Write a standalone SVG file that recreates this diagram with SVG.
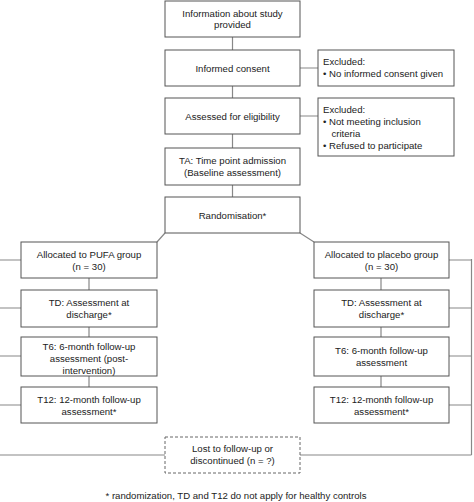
<svg xmlns="http://www.w3.org/2000/svg" width="474" height="502" viewBox="0 0 474 502">
<style>
.b{fill:#fff;stroke:#555;stroke-width:1}
.d{fill:#fff;stroke:#666;stroke-width:1;stroke-dasharray:3,2}
.c{fill:none;stroke:#888;stroke-width:1.2}
text{font-family:"Liberation Sans",Arial,sans-serif;font-size:9.6px;fill:#222}
.m{text-anchor:middle}
</style>
<rect width="474" height="502" fill="#fff"/>
<g id="connectors">
<path class="c" d="M232.5 37V50M232.5 86V98M232.5 134V148M232.5 185V197"/>
<path class="c" d="M300 68H318M300 116H318"/>
<path class="c" d="M165 233L157 242M300 233L314 242"/>
<path class="c" d="M89 278V290M89 327V337M89 376V387"/>
<path class="c" d="M381 278V290M381 327V337M381 376V387"/>
<path class="c" d="M0 260H21M0 308H21M0 356H21M0 405H21M0 455H165"/>
<path class="c" d="M449 260H471.5M449 308H471.5M449 356H471.5M449 405H471.5M300 455H471.5"/>
<path class="c" d="M471.5 259V455" stroke-width="2"/>
</g>
<g id="n1"><rect class="b" x="165" y="1" width="135" height="36"/>
<text class="m" x="232.5" y="16.5">Information about study</text><text class="m" x="232.5" y="28">provided</text></g>
<g id="n2"><rect class="b" x="165" y="50" width="135" height="36"/>
<text class="m" x="232.5" y="71.5">Informed consent</text></g>
<g id="n3"><rect class="b" x="318" y="50" width="136" height="36"/>
<text x="323" y="65">Excluded:</text><text x="323" y="77">•  No informed consent given</text></g>
<g id="n4"><rect class="b" x="165" y="98" width="135" height="36"/>
<text class="m" x="232.5" y="120">Assessed for eligibility</text></g>
<g id="n5"><rect class="b" x="318" y="98" width="136" height="58"/>
<text x="323" y="113">Excluded:</text><text x="323" y="125">•  Not meeting inclusion</text><text x="331.5" y="137">criteria</text><text x="323" y="149">•  Refused to participate</text></g>
<g id="n6"><rect class="b" x="165" y="148" width="135" height="37"/>
<text class="m" x="232.5" y="164">TA: Time point admission</text><text class="m" x="232.5" y="176">(Baseline assessment)</text></g>
<g id="n7"><rect class="b" x="165" y="197" width="135" height="36"/>
<text class="m" x="232.5" y="219">Randomisation*</text></g>
<g id="n8"><rect class="b" x="21" y="242" width="136" height="36"/>
<text class="m" x="89" y="258">Allocated to PUFA group</text><text class="m" x="89" y="270">(n = 30)</text></g>
<g id="n9"><rect class="b" x="21" y="290" width="136" height="37"/>
<text class="m" x="89" y="306">TD: Assessment at</text><text class="m" x="89" y="318">discharge*</text></g>
<g id="n10"><rect class="b" x="21" y="337" width="136" height="39"/>
<text class="m" x="89" y="350">T6: 6-month follow-up</text><text class="m" x="89" y="362">assessment (post-</text><text class="m" x="89" y="374">intervention)</text></g>
<g id="n11"><rect class="b" x="21" y="387" width="136" height="36"/>
<text class="m" x="89" y="403">T12: 12-month follow-up</text><text class="m" x="89" y="415">assessment*</text></g>
<g id="n12"><rect class="b" x="314" y="242" width="135" height="36"/>
<text class="m" x="381.5" y="258">Allocated to placebo group</text><text class="m" x="381.5" y="270">(n = 30)</text></g>
<g id="n13"><rect class="b" x="314" y="290" width="135" height="37"/>
<text class="m" x="381.5" y="306">TD: Assessment at</text><text class="m" x="381.5" y="318">discharge*</text></g>
<g id="n14"><rect class="b" x="314" y="337" width="135" height="39"/>
<text class="m" x="381.5" y="354">T6: 6-month follow-up</text><text class="m" x="381.5" y="366">assessment</text></g>
<g id="n15"><rect class="b" x="314" y="387" width="135" height="36"/>
<text class="m" x="381.5" y="403">T12: 12-month follow-up</text><text class="m" x="381.5" y="415">assessment*</text></g>
<g id="n16"><rect class="d" x="165" y="437" width="135" height="36"/>
<text class="m" x="232.5" y="452">Lost to follow-up or</text><text class="m" x="232.5" y="464">discontinued (n = ?)</text></g>
<text class="m" x="236" y="499">* randomization, TD and T12 do not apply for healthy controls</text>
</svg>
